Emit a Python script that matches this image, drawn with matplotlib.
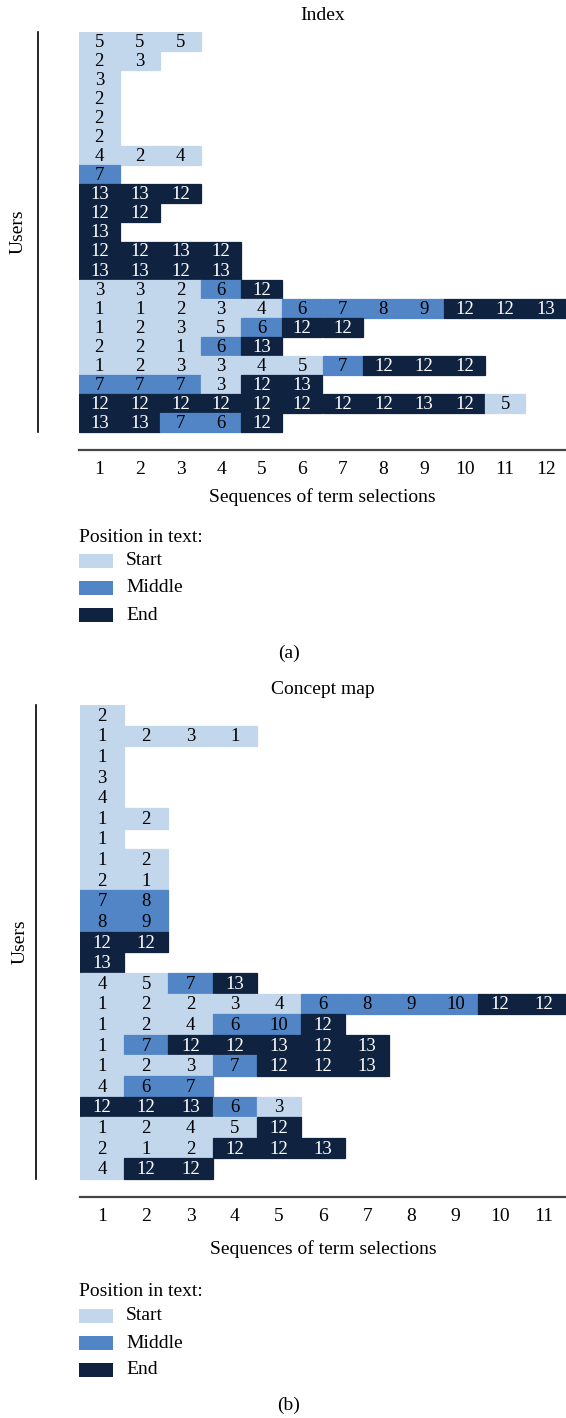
import matplotlib
matplotlib.use("Agg")
import matplotlib.pyplot as plt
from matplotlib.lines import Line2D
from matplotlib.patches import Rectangle

# ---------------- data ----------------
index_rows = [
    [5, 5, 5],
    [2, 3],
    [3],
    [2],
    [2],
    [2],
    [4, 2, 4],
    [7],
    [13, 13, 12],
    [12, 12],
    [13],
    [12, 12, 13, 12],
    [13, 13, 12, 13],
    [3, 3, 2, 6, 12],
    [1, 1, 2, 3, 4, 6, 7, 8, 9, 12, 12, 13],
    [1, 2, 3, 5, 6, 12, 12],
    [2, 2, 1, 6, 13],
    [1, 2, 3, 3, 4, 5, 7, 12, 12, 12],
    [7, 7, 7, 3, 12, 13],
    [12, 12, 12, 12, 12, 12, 12, 12, 13, 12, 5],
    [13, 13, 7, 6, 12],
]
index_xticks = ["1", "2", "3", "4", "5", "6", "7", "8", "9", "10", "11", "12"]

concept_rows = [
    [2],
    [1, 2, 3, 1],
    [1],
    [3],
    [4],
    [1, 2],
    [1],
    [1, 2],
    [2, 1],
    [7, 8],
    [8, 9],
    [12, 12],
    [13],
    [4, 5, 7, 13],
    [1, 2, 2, 3, 4, 6, 8, 9, 10, 12, 12],
    [1, 2, 4, 6, 10, 12],
    [1, 7, 12, 12, 13, 12, 13],
    [1, 2, 3, 7, 12, 12, 13],
    [4, 6, 7],
    [12, 12, 13, 6, 3],
    [1, 2, 4, 5, 12],
    [2, 1, 2, 12, 12, 13],
    [4, 12, 12],
]
concept_xticks = ["1", "2", "3", "4", "5", "6", "7", "8", "9", "10", "11"]

categories = ["Start", "Middle", "End"]
cat_colors = {"Start": "#c2d6ec", "Middle": "#5185c5", "End": "#0f223f"}
cat_text = {"Start": "black", "Middle": "black", "End": "white"}


def category(v):
    if v <= 5:
        return "Start"
    if v <= 10:
        return "Middle"
    return "End"


# ---------------- layout ----------------
W, H = 566, 1418
plt.rcParams["font.family"] = ["Liberation Serif", "DejaVu Serif"]
fig = plt.figure(figsize=(W / 100, H / 100), dpi=100)
FS = 14


def fx(x):
    return x / W


def fy(y):
    return 1 - y / H


def draw_panel(rows, xticks, left, right, top, cells_bottom, spine_y,
               yline_x, title, title_y, xlabel_y, users_x,
               pos_y, leg_ys, cap, cap_y):
    nrows = len(rows)
    ncols = len(xticks)
    row_h = (cells_bottom - top) / nrows
    extra = (spine_y - cells_bottom) / row_h
    ax = fig.add_axes([fx(left), fy(spine_y), fx(right) - fx(left),
                       fy(top) - fy(spine_y)])
    for i, row in enumerate(rows):
        for j, v in enumerate(row):
            c = category(v)
            ax.barh(i + 0.5, 1, left=j, height=1, color=cat_colors[c],
                    edgecolor=cat_colors[c], linewidth=0.9)
            ax.text(j + 0.5, i + 0.55, str(v), ha="center", va="center",
                    fontsize=13.5, color=cat_text[c])
    ax.set_xlim(0, ncols)
    ax.set_ylim(nrows + extra, 0)
    ax.set_xticks([k + 0.5 for k in range(ncols)])
    ax.set_xticklabels(xticks, fontsize=FS)
    ax.tick_params(axis="x", length=0, pad=8)
    ax.set_yticks([])
    for s in ["top", "right", "left"]:
        ax.spines[s].set_visible(False)
    ax.spines["bottom"].set_color("#444444")
    ax.spines["bottom"].set_linewidth(1.6)
    # y axis line
    fig.add_artist(Line2D([fx(yline_x), fx(yline_x)], [fy(top), fy(cells_bottom)],
                          color="black", linewidth=1.2))
    fig.text(fx((left + right) / 2), fy(title_y), title, ha="center",
             va="center", fontsize=FS)
    fig.text(fx((left + right) / 2), fy(xlabel_y), "Sequences of term selections",
             ha="center", va="center", fontsize=FS)
    fig.text(fx(users_x), fy((top + cells_bottom) / 2), "Users", rotation=90,
             ha="center", va="center", fontsize=FS)
    fig.text(fx(79), fy(pos_y), "Position in text:", ha="left", va="center",
             fontsize=FS)
    for cat, ly in zip(categories, leg_ys):
        fig.add_artist(Rectangle((fx(79), fy(ly + 7)), fx(113) - fx(79),
                                 fy(ly - 7) - fy(ly + 7),
                                 facecolor=cat_colors[cat], edgecolor="none"))
        fig.text(fx(126), fy(ly), cat, ha="left", va="center", fontsize=FS)
    fig.text(fx(289), fy(cap_y), cap, ha="center", va="center", fontsize=FS)


draw_panel(index_rows, index_xticks, 79, 566, 32, 432, 450, 38, "Index", 15,
           497, 18, 537, [561, 588, 615], "(a)", 653)
draw_panel(concept_rows, concept_xticks, 80, 566, 705, 1179, 1197, 36,
           "Concept map", 690, 1249, 20, 1291, [1316, 1343, 1370],
           "(b)", 1405)

fig.savefig("out.png", dpi=100)
